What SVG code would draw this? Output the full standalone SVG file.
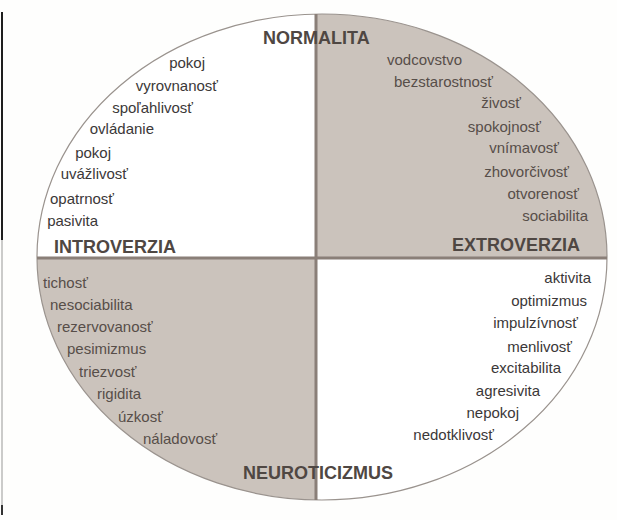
<svg xmlns="http://www.w3.org/2000/svg" width="617" height="520" viewBox="0 0 617 520">
<defs>
<style>
.lab{font-family:"Liberation Sans",Arial,sans-serif;font-size:15px;}
.w{fill:#3b3838;}
.s{fill:#574e49;}
.ttl{font-family:"Liberation Sans",Arial,sans-serif;font-size:18px;font-weight:bold;fill:#4f4743;}
.e{text-anchor:end;}
</style>
<clipPath id="ell"><ellipse cx="322" cy="257" rx="285" ry="243"/></clipPath>
</defs>
<rect width="617" height="520" fill="#fefefd"/>
<line x1="2" y1="12" x2="2" y2="240" stroke="#1e1e1e" stroke-width="2"/>
<line x1="2" y1="240" x2="2" y2="512" stroke="#a8a8a8" stroke-width="1.2"/>
<line x1="2" y1="505" x2="2" y2="515" stroke="#333" stroke-width="2"/>
<g id="quadrants" clip-path="url(#ell)">
<rect id="q-tl" x="30" y="10" width="286" height="248" fill="#ffffff"/>
<rect id="q-tr" x="316" y="10" width="300" height="248" fill="#cbc3bc"/>
<rect id="q-bl" x="30" y="258" width="286" height="250" fill="#cbc3bc"/>
<rect id="q-br" x="316" y="258" width="300" height="250" fill="#ffffff"/>
</g>
<g id="connectors">
<ellipse cx="322" cy="257" rx="285" ry="243" fill="none" stroke="#9a938e" stroke-width="1.2"/>
<line x1="316" y1="14" x2="316" y2="500" stroke="#8a7f78" stroke-width="3"/>
<line x1="37" y1="258" x2="607" y2="258" stroke="#8a7f78" stroke-width="3"/>
</g>
<g id="normalita"><text class="ttl" x="263" y="44">NORMALITA</text></g>
<g id="introverzia"><text class="ttl" x="54" y="253">INTROVERZIA</text></g>
<g id="extroverzia"><text class="ttl" x="452" y="251">EXTROVERZIA</text></g>
<g id="neuroticizmus"><text class="ttl" x="243" y="479">NEUROTICIZMUS</text></g>
<g id="introvert-stable" class="lab w">
<text class="e" x="205" y="68">pokoj</text>
<text class="e" x="218" y="91">vyrovnanosť</text>
<text class="e" x="193" y="113">spoľahlivosť</text>
<text class="e" x="154" y="134">ovládanie</text>
<text class="e" x="111" y="158">pokoj</text>
<text class="e" x="128" y="179">uvážlivosť</text>
<text class="e" x="114" y="204">opatrnosť</text>
<text class="e" x="98" y="226">pasivita</text>
</g>
<g id="extrovert-stable" class="lab s">
<text class="e" x="462" y="65">vodcovstvo</text>
<text class="e" x="493" y="87">bezstarostnosť</text>
<text class="e" x="521" y="108">živosť</text>
<text class="e" x="541" y="132">spokojnosť</text>
<text class="e" x="559" y="153">vnímavosť</text>
<text class="e" x="569" y="177">zhovorčivosť</text>
<text class="e" x="579" y="199">otvorenosť</text>
<text class="e" x="588" y="221">sociabilita</text>
</g>
<g id="introvert-neurotic" class="lab s">
<text x="43" y="288">tichosť</text>
<text x="50" y="310">nesociabilita</text>
<text x="57" y="332">rezervovanosť</text>
<text x="67" y="354">pesimizmus</text>
<text x="79" y="377">triezvosť</text>
<text x="97" y="399">rigidita</text>
<text x="118" y="422">úzkosť</text>
<text x="143" y="444">náladovosť</text>
</g>
<g id="extrovert-neurotic" class="lab w">
<text class="e" x="591" y="283">aktivita</text>
<text class="e" x="587" y="306">optimizmus</text>
<text class="e" x="578" y="328">impulzívnosť</text>
<text class="e" x="572" y="352">menlivosť</text>
<text class="e" x="561" y="373">excitabilita</text>
<text class="e" x="540" y="396">agresivita</text>
<text class="e" x="519" y="418">nepokoj</text>
<text class="e" x="494" y="440">nedotklivosť</text>
</g>
</svg>
